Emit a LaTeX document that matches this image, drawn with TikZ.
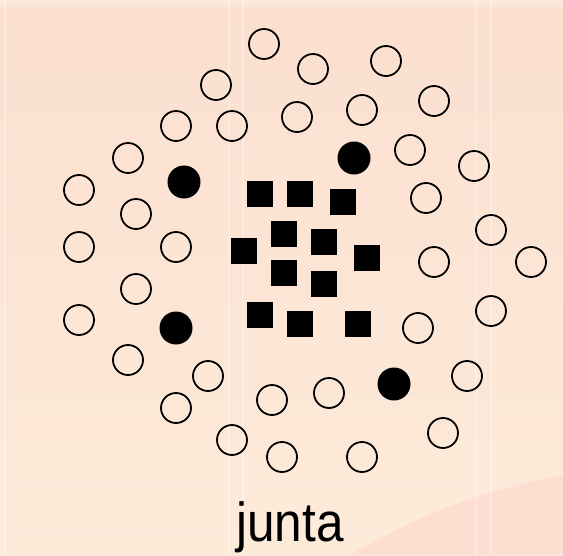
\documentclass[tikz,border=0pt]{standalone}
\usepackage{fontspec}
\setmainfont{Liberation Sans}
\begin{document}
\begin{tikzpicture}[x=1pt,y=-1pt,
  ring/.style={circle,draw=black,line width=1.8pt,minimum size=30pt,inner sep=0pt},
  dot/.style={circle,fill=black,minimum size=33pt,inner sep=0pt},
  sq/.style={rectangle,fill=black,minimum size=26pt,inner sep=0pt}]
\definecolor{bgtop}{HTML}{FBDFCF}
\definecolor{bgbot}{HTML}{FDEBDA}
\definecolor{swoop}{HTML}{FDDCCF}
\useasboundingbox (0,0) rectangle (563,555);
\shade[top color=bgtop,bottom color=bgbot] (0,0) rectangle (563,555);
\fill[swoop,opacity=0.8] (563,475) .. controls (480,490) and (420,515) .. (350,555) -- (563,555) -- cycle;
\fill[white,opacity=0.25] (0,0) rectangle (563,7);
\foreach \xx in {5,229,243,476,491} \fill[white,opacity=0.3] (\xx-1,0) rectangle (\xx+1,555);
% open circles
\foreach \n/\px/\py in {1/264/44,2/216/85,3/313/69,4/386/61,5/176/126,6/232/126,7/297/117,8/362/110,9/434/101,
  10/128/158,11/410/150,12/474/166,13/79/190,14/136/214,15/426/198,16/79/247,17/176/247,18/491/230,19/434/262,
  20/531/262,21/136/289,22/79/320,23/418/328,24/491/311,25/128/360,26/208/376,27/272/400,28/329/393,29/467/376,
  30/176/408,31/232/440,32/282/457,33/362/457,34/443/433}
  \node[ring] (c\n) at (\px,\py) {};
% filled circles
\foreach \n/\px/\py in {1/184/182,2/354/158,3/176/328,4/394/384}
  \node[dot] (f\n) at (\px,\py) {};
% squares
\foreach \n/\px/\py in {1/260/194,2/300/194,3/343/202,4/284/234,5/324/242,6/244/251,7/367/258,8/284/273,9/324/284,10/260/315,11/300/324,12/358/324}
  \node[sq] (s\n) at (\px,\py) {};
\node[inner sep=0pt,anchor=base,font=\fontsize{55}{55}\selectfont,xscale=0.9] (lbl) at (290,541) {junta};
\end{tikzpicture}
\end{document}
